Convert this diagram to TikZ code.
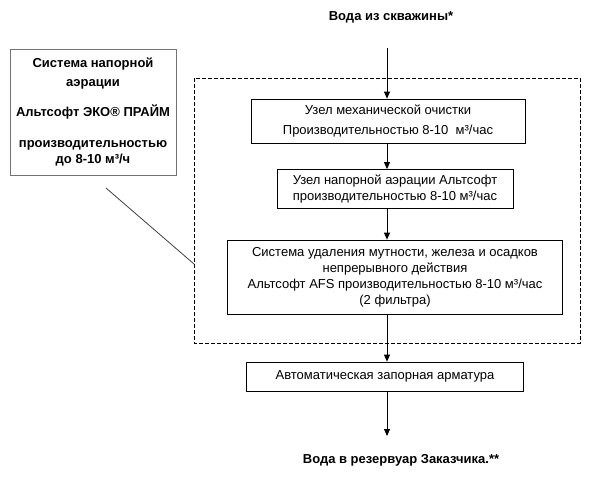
\documentclass[tikz,border=0pt]{standalone}
\usepackage{fontspec}
\setmainfont{Liberation Sans}
\usetikzlibrary{arrows.meta,positioning}

\begin{document}
\begin{tikzpicture}[
    x=1pt, y=1pt,
    node distance=68pt,
    >={Triangle[width=6pt,length=7pt]},
    line width=0.8pt,
    font=\fontsize{13}{16}\selectfont,
    unit/.style={
		rectangle,
		draw=black,
		text centered,
		align=center,
		inner sep=0pt,
		fill=white
	},
	caption/.style={
		font=\fontsize{13}{16}\selectfont\bfseries
	}
  ]
  \useasboundingbox (0,0) rectangle (598,-501);
  % We start by placing the blocks
  \node [caption] (source) at (391,-17) {Вода из скважины*};
  \coordinate (inlet) at (387,-48);

  \node [unit, minimum width=274pt, minimum height=44pt] (mech) at (388,-121)
  {Узел механической очистки\\[4pt]Производительностью 8-10\ \ м³/час};

  \node [unit, minimum width=236pt, minimum height=39pt, below of=mech, xshift=7pt] (aer)
  {Узел напорной аэрации Альтсофт\\производительностью 8-10 м³/час};

  \node [unit, minimum width=335pt, minimum height=74pt, below of=aer, yshift=-20pt] (afs)
  {Система удаления мутности, железа и осадков\\непрерывного действия\\
   Альтсофт AFS производительностью 8-10 м³/час\\(2 фильтра)};

  \node [unit, minimum width=277pt, minimum height=29pt, below of=afs, yshift=-31.5pt, xshift=-10pt] (valve)
  {Автоматическая запорная арматура};

  \coordinate (outlet) at (387,-436);
  \node [caption] (sink) at (401,-460) {Вода в резервуар Заказчика.**};

  % side note
  \node [unit, draw=black!55, minimum width=166pt, minimum height=126pt, font=\fontsize{13}{16}\selectfont\bfseries] (note) at (93,-112)
  {Система напорной\\[3pt]аэрации\\[14pt]Альтсофт ЭКО® ПРАЙМ\\[15pt]производительностью\\до 8-10 м³/ч};

  \draw [dash pattern=on 4pt off 2pt] (194,-78) rectangle (580,-343);
  \coordinate (notetail) at (106,-188);
  \coordinate (framehit) at (194,-264);
  \draw [black!75] (notetail) -- (framehit);

  % connectors
  \draw [->] (inlet) -- (inlet |- mech.north);
  \draw [->] (inlet |- mech.south) -- (inlet |- aer.north);
  \draw [->] (inlet |- aer.south) -- (inlet |- afs.north);
  \draw [->] (inlet |- afs.south) -- (inlet |- valve.north);
  \draw [->] (inlet |- valve.south) -- (outlet);

\end{tikzpicture}
\end{document}
